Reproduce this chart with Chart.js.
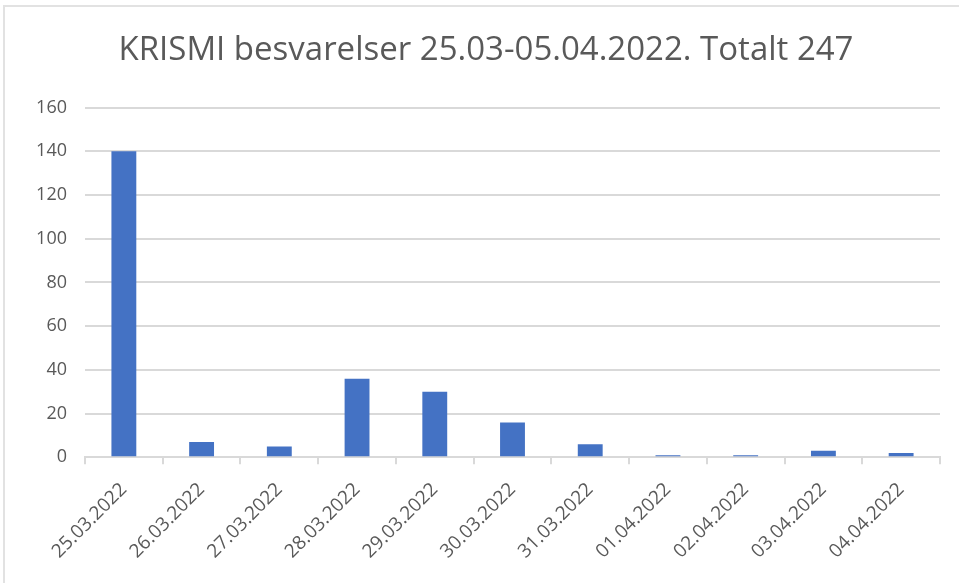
<!DOCTYPE html>
<html>
<head>
<meta charset="utf-8">
<script src="https://cdn.jsdelivr.net/npm/chart.js@4/dist/chart.umd.min.js"></script>
<style>
    html, body { margin: 0; padding: 0; background: #ffffff; overflow: hidden; }
    #frame {
        position: absolute; left: 3px; top: 5px;
        width: 958px; height: 580px;
        border-top: 2px solid #e2e2e2; border-left: 2px solid #e2e2e2;
        box-sizing: border-box;
    }
    #wrap { position: absolute; left: 0; top: 0; width: 948px; height: 572px; }
</style>
</head>
<body>
<div id="frame"><div id="wrap"><canvas id="krismiChart"></canvas></div></div>
<script>
// Chart data
const dates = ['25.03.2022', '26.03.2022', '27.03.2022', '28.03.2022', '29.03.2022', '30.03.2022',
    '31.03.2022', '01.04.2022', '02.04.2022', '03.04.2022', '04.04.2022'];
const responses = [140, 7, 5, 36, 30, 16, 6, 1, 1, 3, 2];
const chartTitle = 'KRISMI besvarelser 25.03-05.04.2022. Totalt 247';

const textColor = '#595959';
const gridColor = '#d9d9d9';
const fontFamily = '"Open Sans", "Liberation Sans", sans-serif';

document.addEventListener('DOMContentLoaded', function() {
    const ctx = document.getElementById('krismiChart');

    new Chart(ctx, {
        type: 'bar',
        data: {
            labels: dates,
            datasets: [{
                label: 'Besvarelser',
                data: responses,
                backgroundColor: '#4472c4',
                borderWidth: 0,
                barPercentage: 0.32,
                categoryPercentage: 1
            }]
        },
        options: {
            responsive: true,
            maintainAspectRatio: false,
            animation: false,
            layout: {
                padding: { left: 27, right: 13, top: 9, bottom: 2 }
            },
            plugins: {
                legend: { display: false },
                tooltip: { enabled: false },
                title: {
                    display: true,
                    text: chartTitle,
                    color: textColor,
                    font: { family: fontFamily, size: 33, weight: 'normal' },
                    padding: { top: 15, bottom: 37 }
                }
            },
            scales: {
                y: {
                    min: 0,
                    max: 160,
                    ticks: {
                        stepSize: 20,
                        color: textColor,
                        padding: 18,
                        font: { family: fontFamily, size: 18 }
                    },
                    grid: {
                        color: gridColor,
                        lineWidth: 2,
                        drawTicks: false
                    },
                    border: { display: false },
                    afterFit: function(scale) { scale.width = 53; }
                },
                x: {
                    ticks: {
                        color: textColor,
                        minRotation: 45,
                        maxRotation: 45,
                        padding: 14,
                        font: { family: fontFamily, size: 19 }
                    },
                    grid: {
                        color: gridColor,
                        lineWidth: 2,
                        drawOnChartArea: false,
                        drawTicks: true,
                        tickLength: 7
                    },
                    border: { color: gridColor, width: 2 }
                }
            }
        }
    });
});
</script>
</body>
</html>
